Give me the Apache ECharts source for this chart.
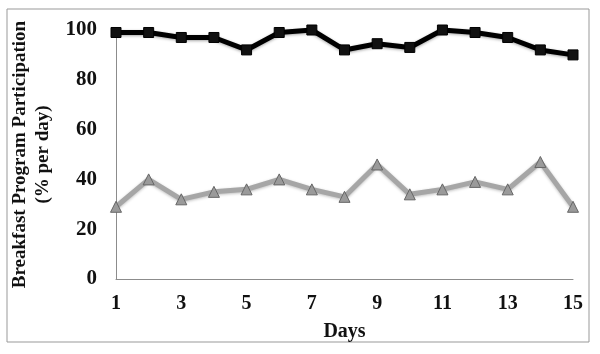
<!DOCTYPE html>
<html>
<head>
<meta charset="utf-8">
<script src="https://cdn.jsdelivr.net/npm/echarts@6/dist/echarts.min.js"></script>
<style>html,body{margin:0;padding:0;background:#fff}#c{width:600px;height:354px}</style>
</head>
<body>
<div id="c"></div>
<script>
const days = ['1','2','3','4','5','6','7','8','9','10','11','12','13','14','15'];
const seriesA = [99, 99, 97, 97, 92, 99, 100, 92, 94.5, 93, 100, 99, 97, 92, 90];
const seriesB = [29, 40, 32, 35, 36, 40, 36, 33, 46, 34, 36, 39, 36, 47, 29];
const yTicks = [0, 20, 40, 60, 80, 100];

const font = 'Liberation Serif';
const chart = echarts.init(document.getElementById('c'));
chart.setOption({
  animation: false,
  backgroundColor: '#fff',
  graphic: [{
    type: 'rect', shape: {x: 7, y: 9, width: 582, height: 333},
    style: {fill: 'none', stroke: '#999', lineWidth: 1}, z: -1
  }],
  grid: {left: 116, right: 27, top: 30, bottom: 75, containLabel: false, outerBoundsMode: 'none'},
  xAxis: {
    type: 'category', data: days, boundaryGap: false,
    name: 'Days', nameLocation: 'middle', nameGap: 43,
    nameTextStyle: {fontFamily: font, fontWeight: 'bold', fontSize: 20, color: '#111'},
    axisLine: {lineStyle: {color: '#8c8c8c', width: 1}},
    axisTick: {show: false},
    axisLabel: {interval: 1, margin: 15, fontFamily: font, fontWeight: 'bold', fontSize: 20, color: '#111'},
    splitLine: {show: false}
  },
  yAxis: {
    type: 'value', min: yTicks[0], max: yTicks[yTicks.length-1], interval: 20,
    name: 'Breakfast Program Participation\n(% per day)', nameLocation: 'middle', nameGap: 60,
    nameRotate: 90,
    nameTextStyle: {fontFamily: font, fontWeight: 'bold', fontSize: 19, color: '#111', lineHeight: 23},
    axisLine: {show: true, lineStyle: {color: '#8c8c8c', width: 1}},
    axisTick: {show: false},
    axisLabel: {margin: 19, fontFamily: font, fontWeight: 'bold', fontSize: 21, color: '#111'},
    splitLine: {show: false}
  },
  series: [{
    type: 'line', data: seriesA,
    symbol: 'rect', symbolSize: 10,
    lineStyle: {color: '#000', width: 5, shadowColor: 'rgba(0,0,0,0.35)', shadowBlur: 3, shadowOffsetY: 1},
    itemStyle: {color: '#111', borderColor: '#000', borderWidth: 1},
    z: 3
  }, {
    type: 'line', data: seriesB,
    symbol: 'triangle', symbolSize: 11,
    lineStyle: {color: '#a6a6a6', width: 5, shadowColor: 'rgba(0,0,0,0.25)', shadowBlur: 3, shadowOffsetY: 1},
    itemStyle: {color: '#9a9a9a', borderColor: '#666', borderWidth: 1},
    z: 2
  }]
});
</script>
</body>
</html>
